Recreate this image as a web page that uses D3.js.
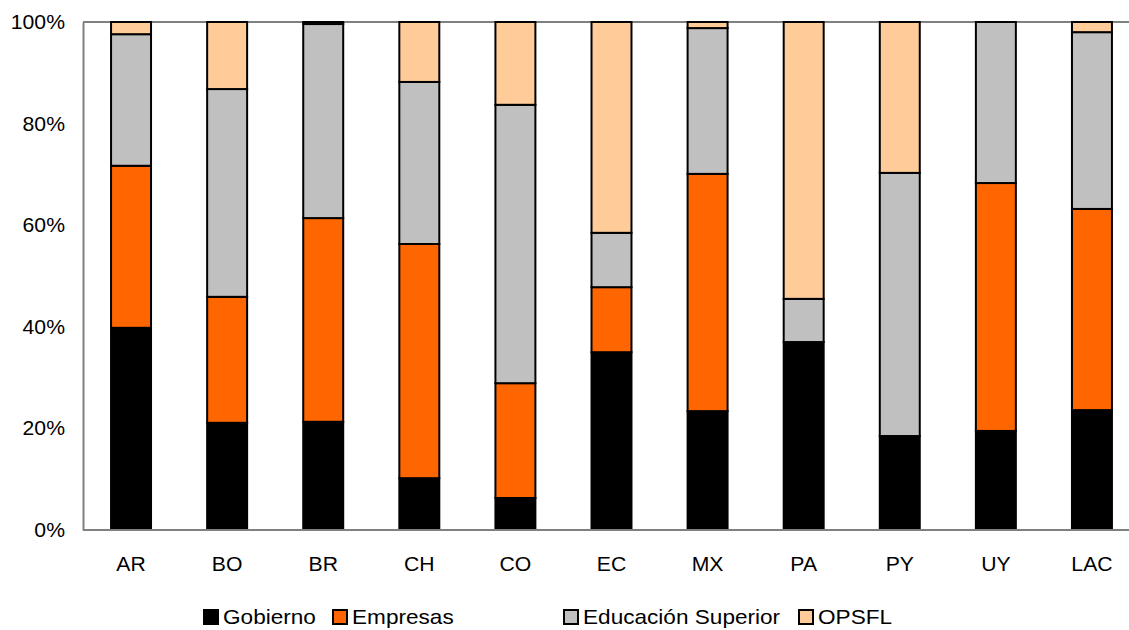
<!DOCTYPE html>
<html><head><meta charset="utf-8">
<script src="https://cdn.jsdelivr.net/npm/d3@7"></script>
<style>body{margin:0;background:#fff}svg{display:block;font-family:"Liberation Sans",Arial,sans-serif}</style>
</head><body><svg id="c" width="1129" height="630"></svg>
<script>
const categories = ["AR","BO","BR","CH","CO","EC","MX","PA","PY","UY","LAC"];
const seriesNames = ["Gobierno","Empresas","Educación Superior","OPSFL"];
const gobierno = [39.8,21.1,21.3,10.2,6.3,35.0,23.4,37.0,18.5,19.5,23.6];
const empresas = [31.9,24.8,40.1,46.1,22.6,12.8,46.7,0.0,0.0,48.8,39.6];
const educacion = [25.9,40.9,38.2,31.9,54.8,10.7,28.7,8.5,51.8,31.7,34.8];
const opsfl = [2.4,13.2,0.4,11.8,16.3,41.5,1.2,54.5,29.7,0.0,2.0];
const yTicks = [0,20,40,60,80,100];
const colors = ["#000000","#ff6600","#c0c0c0","#ffcc99"];

const svg = d3.select("#c");
const x = d3.scaleBand().domain(categories).range([83,1140]).paddingInner(0.584).paddingOuter(0.292);
const y = d3.scaleLinear().domain([0,100]).range([530,22]);

const rows = categories.map((c,i)=>({cat:c, Gobierno:gobierno[i], Empresas:empresas[i], "Educación Superior":educacion[i], OPSFL:opsfl[i]}));
const stacked = d3.stack().keys(seriesNames)(rows);

// top border line
svg.append("line").attr("x1",83).attr("x2",1129).attr("y1",y(100)).attr("y2",y(100)).attr("stroke","#808080").attr("stroke-width",2);

stacked.forEach((s,k)=>{
  svg.append("g").selectAll("rect").data(s).join("rect")
    .attr("x",d=>x(d.data.cat)).attr("width",x.bandwidth())
    .attr("y",d=>y(d[1])).attr("height",d=>Math.max(0,y(d[0])-y(d[1])))
    .attr("fill",colors[k]).attr("stroke","#000").attr("stroke-width",2);
});

// y axis
const ya = svg.append("g").attr("transform","translate(83,0)").call(d3.axisLeft(y).tickValues(yTicks).tickFormat(d=>d+"%").tickSize(0).tickPadding(17));
ya.select(".domain").attr("stroke","#808080").attr("stroke-width",2);
ya.selectAll("text").attr("font-size",20).attr("fill","#000").attr("font-family","Liberation Sans, Arial, sans-serif")
  .attr("transform","scale(1.06,1)");

// x axis
const xa = svg.append("g").attr("transform","translate(0,530)").call(d3.axisBottom(x).tickSize(0).tickPadding(27));
xa.select(".domain").attr("stroke","#808080").attr("stroke-width",2).attr("d","M83,0H1129");
xa.selectAll("text").attr("font-size",20).attr("fill","#000").attr("font-family","Liberation Sans, Arial, sans-serif")
  .attr("transform","scale(1.06,1)");

// legend
const legX = [203,332,563,798];
const lg = svg.append("g");
seriesNames.forEach((n,i)=>{
  lg.append("rect").attr("x",legX[i]+1).attr("y",610).attr("width",14).attr("height",14)
    .attr("fill",colors[i]).attr("stroke","#000").attr("stroke-width",2);
  lg.append("text").attr("transform",`translate(${legX[i]+20},624) scale(1.13,1)`)
    .attr("font-size",20).attr("fill","#000").text(n);
});
</script></body></html>
